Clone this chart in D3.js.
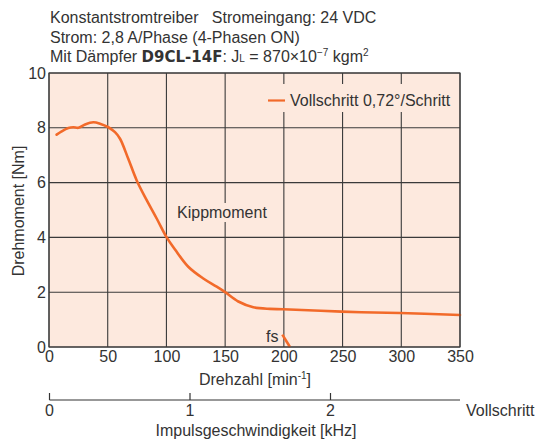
<!DOCTYPE html>
<html><head><meta charset="utf-8">
<script src="https://cdn.jsdelivr.net/npm/d3@7"></script>
<style>
body{margin:0;background:#fff;}
svg text{font-family:"Liberation Sans Narrow","Arial Narrow","Liberation Sans",sans-serif;fill:#333;}
</style></head><body>
<svg id="c" width="535" height="441"></svg>
<script>
// Data
const speed = [6.5,10.8,16.5,20.7,25,30.7,37.7,43.4,50.5,56.2,60.5,67.5,74.7,83.2,91.7,100.2,107.3,118.6,131.4,142.8,150,161.2,174,188.2,199.5,249.2,298.9,350];
const torque = [7.75,7.87,7.99,8.02,8.0,8.12,8.2,8.15,8.02,7.84,7.6,6.87,6.08,5.36,4.69,4.0,3.56,2.93,2.5,2.2,2.0,1.66,1.45,1.39,1.38,1.29,1.24,1.17];
const fsSpeed = [198.7,205.2];
const fsTorque = [0.45,0];
const xTicks = [0,50,100,150,200,250,300,350];
const yTicks = [0,2,4,6,8,10];
const kHzTicks = [0,1,2];
const titleLines = ["Konstantstromtreiber   Stromeingang: 24 VDC","Strom: 2,8 A/Phase (4-Phasen ON)"];

const FS = 16;
const svg = d3.select("#c");
const L=49,R=460,T=73,B=347;
const x = d3.scaleLinear().domain([0,350]).range([L,R]);
const y = d3.scaleLinear().domain([0,10]).range([B,T]);
const xk = d3.scaleLinear().domain([0,1]).range([49.5,190]);

// plot background
svg.append("rect").attr("x",L).attr("y",T).attr("width",R-L).attr("height",B-T).attr("fill","#fde9de");

// grid
const g = svg.append("g").attr("stroke","#3a3a3a").attr("stroke-width",1.1);
xTicks.forEach(t=>g.append("line").attr("x1",x(t)).attr("x2",x(t)).attr("y1",T).attr("y2",B));
yTicks.forEach(t=>g.append("line").attr("x1",L).attr("x2",R).attr("y1",y(t)).attr("y2",y(t)));

// axis labels (ticks) via d3 axes
const xa = svg.append("g").attr("transform",`translate(0,${B})`)
  .call(d3.axisBottom(x).tickValues(xTicks).tickSize(0).tickPadding(4));
const ya = svg.append("g").attr("transform",`translate(${L},0)`)
  .call(d3.axisLeft(y).tickValues(yTicks).tickSize(0).tickPadding(3));
[xa,ya].forEach(a=>{a.select(".domain").remove();a.selectAll("text").attr("font-size",FS).attr("fill","#333").attr("font-family",null);});

// label backgrounds
svg.append("rect").attr("x",263).attr("y",84).attr("width",190).attr("height",28).attr("fill","#fde9de");
svg.append("rect").attr("x",172).attr("y",203).attr("width",92).attr("height",19).attr("fill","#fde9de");

// curve
const line = d3.line().x(d=>x(d[0])).y(d=>y(d[1])).curve(d3.curveCatmullRom.alpha(0.5));
svg.append("path").datum(speed.map((s,i)=>[s,torque[i]])).attr("d",line)
  .attr("fill","none").attr("stroke","#f26a2a").attr("stroke-width",2.6).attr("stroke-linecap","round");
svg.append("path").datum(fsSpeed.map((s,i)=>[s,fsTorque[i]])).attr("d",d3.line().x(d=>x(d[0])).y(d=>y(d[1])))
  .attr("fill","none").attr("stroke","#f26a2a").attr("stroke-width",2.6);

// legend
svg.append("line").attr("x1",268).attr("x2",285).attr("y1",100.5).attr("y2",100.5).attr("stroke","#f26a2a").attr("stroke-width",2.2);
svg.append("text").attr("x",290).attr("y",106).attr("font-size",FS).text("Vollschritt 0,72°/Schritt");
svg.append("text").attr("x",177).attr("y",218).attr("font-size",FS).text("Kippmoment");
svg.append("text").attr("x",266).attr("y",342).attr("font-size",FS).text("fs");

// plot border
svg.append("rect").attr("x",L).attr("y",T).attr("width",R-L).attr("height",B-T).attr("fill","none").attr("stroke","#3a3a3a").attr("stroke-width",1.1);

// axis titles
svg.append("text").attr("x",255).attr("y",385).attr("text-anchor","middle").attr("font-size",FS)
  .html('Drehzahl [min<tspan dy="-6" font-size="10">-1</tspan><tspan dy="6">]</tspan>');
svg.append("text").attr("transform","translate(24,211) rotate(-90)").attr("text-anchor","middle").attr("font-size",FS).text("Drehmoment [Nm]");

// kHz axis
const ka = svg.append("g").attr("transform","translate(0,400)");
ka.append("line").attr("x1",49.5).attr("x2",460).attr("y1",0).attr("y2",0).attr("stroke","#333").attr("stroke-width",1.2);
kHzTicks.forEach(t=>{
  ka.append("line").attr("x1",xk(t)).attr("x2",xk(t)).attr("y1",-7).attr("y2",0).attr("stroke","#333").attr("stroke-width",1.2);
  ka.append("text").attr("x",xk(t)).attr("y",16).attr("text-anchor","middle").attr("font-size",FS).text(t);
});
svg.append("text").attr("x",466).attr("y",416).attr("font-size",FS).text("Vollschritt");
svg.append("text").attr("x",256).attr("y",436).attr("text-anchor","middle").attr("font-size",FS).text("Impulsgeschwindigkeit [kHz]");

// titles
titleLines.forEach((t,i)=>svg.append("text").attr("x",50).attr("y",23+i*19.5).attr("font-size",FS).style("white-space","pre").text(t));
const t3 = svg.append("text").attr("x",50).attr("y",62).attr("font-size",FS);
t3.append("tspan").text("Mit Dämpfer ");
t3.append("tspan").attr("font-weight","bold").attr("font-family","'DejaVu Sans','Liberation Sans',sans-serif").attr("font-size",15).text("D9CL-14F");
t3.append("tspan").text(": J");
t3.append("tspan").attr("font-size",10).text("L");
t3.append("tspan").text(" = 870×10");
t3.append("tspan").attr("dy",-6).attr("font-size",10).text("−7");
t3.append("tspan").attr("dy",6).text(" kgm");
t3.append("tspan").attr("dy",-6).attr("font-size",10).text("2");
</script>
</body></html>
